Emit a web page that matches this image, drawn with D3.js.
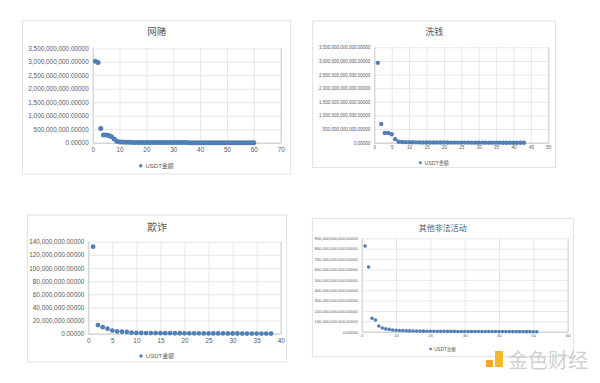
<!DOCTYPE html>
<html>
<head>
<meta charset="utf-8">
<script src="https://cdn.jsdelivr.net/npm/d3@7"></script>
<style>
  body { margin: 0; background: #fff; }
  svg { display: block; }
  .tick text { fill: #595959; font-family: "Liberation Sans", Arial, sans-serif; }
  .grid line { stroke: #d9d9d9; stroke-width: 0.6; }
</style>
</head>
<body>
<svg id="mainsvg" width="600" height="383"></svg>
<script>
// chart values
let titles = ["网赌", "洗钱", "欺诈", "其他非法活动"];
let legendLabel = "USDT金额";

let wangduValues = [3.02e9, 2.97e9, 5.3e8, 2.9e8, 2.88e8, 2.7e8, 2.25e8, 1.4e8, 5.5e7, 3.0e7,
    2.2e7, 1.8e7, 1.5e7, 1.3e7, 1.1e7, 1.0e7, 9.0e6, 8.5e6, 8.0e6, 7.5e6,
    7.0e6, 6.5e6, 6.0e6, 5.6e6, 5.2e6, 4.9e6, 4.6e6, 4.3e6, 4.0e6, 3.8e6,
    3.6e6, 3.4e6, 3.2e6, 3.0e6, 2.9e6, 2.7e6, 2.6e6, 2.5e6, 2.4e6, 2.3e6,
    2.2e6, 2.1e6, 2.0e6, 1.9e6, 1.8e6, 1.7e6, 1.6e6, 1.5e6, 1.4e6, 1.3e6,
    1.2e6, 1.1e6, 1.0e6, 9e5, 8e5, 7e5, 6e5, 5e5, 4e5, 3e5];
let xiqianValues = [2.93e12, 6.9e11, 3.6e11, 3.55e11, 3.1e11, 1.3e11, 3.5e10, 2.6e10, 2.1e10, 1.8e10,
    1.5e10, 1.3e10, 1.1e10, 9.5e9, 8.5e9, 7.5e9, 6.8e9, 6.2e9, 5.6e9, 5.1e9,
    4.7e9, 4.3e9, 4.0e9, 3.7e9, 3.4e9, 3.1e9, 2.9e9, 2.7e9, 2.5e9, 2.3e9,
    2.1e9, 1.9e9, 1.7e9, 1.5e9, 1.3e9, 1.1e9, 9e8, 7.5e8, 6e8, 4.5e8,
    3.5e8, 2.5e8, 1.5e8];
let qizhaValues = [1.324e8, 1.32e7, 1.0e7, 7.6e6, 4.8e6, 3.4e6, 3.0e6, 2.7e6, 1.5e6, 1.25e6,
    1.1e6, 1.0e6, 9.5e5, 9e5, 8.5e5, 8e5, 7.5e5, 7e5, 6.6e5, 6.2e5,
    5.8e5, 5.4e5, 5e5, 4.7e5, 4.4e5, 4.1e5, 3.8e5, 3.5e5, 3.2e5, 3e5,
    2.8e5, 2.6e5, 2.4e5, 2.2e5, 2e5, 1.8e5, 1.6e5, 1.4e5];
let qitaValues = [8.25e11, 6.23e11, 1.29e11, 1.13e11, 5.5e10, 3.6e10, 2.7e10, 2.2e10, 1.7e10, 1.4e10,
    1.2e10, 1.0e10, 8.8e9, 7.8e9, 7e9, 6.3e9, 5.7e9, 5.2e9, 4.8e9, 4.4e9,
    4.1e9, 3.8e9, 3.5e9, 3.3e9, 3.1e9, 2.9e9, 2.7e9, 2.55e9, 2.4e9, 2.25e9,
    2.1e9, 2e9, 1.9e9, 1.8e9, 1.7e9, 1.6e9, 1.5e9, 1.4e9, 1.3e9, 1.2e9,
    1.1e9, 1.0e9, 9e8, 8e8, 7e8, 6e8, 5e8, 4e8, 3e8, 2e8, 1e8];

let yMaxes = [3.5e9, 3.5e12, 1.4e8, 9e11];
let yTickSteps = [5e8, 5e11, 2e7, 1e11];
let xMaxes = [70, 50, 40, 60];
let xTickSteps = [10, 5, 5, 10];

// layout of the four boxes (pixels)
let layout = [
    {box: [22.7, 20.7, 290.7, 174], plot: [92.7, 280.7, 48.3, 142.7], titleY: 35, titleSize: 9.5, tick: 6.4, legY: 165.7, legSize: 6, r: 2.5},
    {box: [312.7, 21, 555.7, 167.3], plot: [374.3, 548.3, 47.3, 142.7], titleY: 35, titleSize: 9, tick: 4.5, legY: 162.7, legSize: 5.2, r: 2.2},
    {box: [27.3, 215, 286.7, 362], plot: [88.3, 280.7, 241.7, 333.7], titleY: 230.5, titleSize: 10, tick: 6.4, legY: 356, legSize: 6, r: 2.4},
    {box: [312.3, 218.3, 573.3, 356.7], plot: [361.7, 567.7, 238.3, 331.7], titleY: 230.8, titleSize: 8, tick: 4.1, legY: 349, legSize: 4.6, r: 1.8}
];
let seriesList = [wangduValues, xiqianValues, qizhaValues, qitaValues];
let dotColor = "#4f7fb6";
let fmt = d3.format(",.5f");

let svg = d3.select("#mainsvg");

function drawPanel(i) {
    let L = layout[i];
    let values = seriesList[i];
    let [bx0, by0, bx1, by1] = L.box;
    let [px0, px1, py0, py1] = L.plot;
    let g = svg.append("g");

    g.append("rect")
        .attr("x", bx0).attr("y", by0)
        .attr("width", bx1 - bx0).attr("height", by1 - by0)
        .attr("fill", "#fff").attr("stroke", "#d9d9d9").attr("stroke-width", 0.8);

    let x = d3.scaleLinear().domain([0, xMaxes[i]]).range([px0, px1]);
    let y = d3.scaleLinear().domain([0, yMaxes[i]]).range([py1, py0]);

    let yTicks = d3.range(0, yMaxes[i] + yTickSteps[i] / 2, yTickSteps[i]);
    let xTicks = d3.range(0, xMaxes[i] + xTickSteps[i] / 2, xTickSteps[i]);

    let ya = g.append("g").attr("class", "grid")
        .attr("transform", `translate(${px0},0)`)
        .call(d3.axisLeft(y).tickValues(yTicks).tickFormat(fmt)
            .tickSize(-(px1 - px0)).tickPadding(4));
    ya.select(".domain").remove();
    ya.selectAll("text").attr("font-size", L.tick);

    let xa = g.append("g").attr("class", "grid")
        .attr("transform", `translate(0,${py1})`)
        .call(d3.axisBottom(x).tickValues(xTicks).tickFormat(d3.format("d"))
            .tickSize(-(py1 - py0)).tickPadding(L.tick * 0.7));
    xa.select(".domain").attr("stroke", "#bfbfbf").attr("stroke-width", 0.8);
    xa.selectAll("text").attr("font-size", L.tick);

    g.append("g").selectAll("circle")
        .data(values)
        .enter()
        .append("circle")
        .attr("cx", (d, k) => x(k + 1))
        .attr("cy", d => y(d))
        .attr("r", L.r)
        .attr("fill", dotColor);

    let cx = (bx0 + bx1) / 2;
    g.append("text")
        .attr("x", cx).attr("y", L.titleY)
        .attr("text-anchor", "middle")
        .attr("font-family", "'Noto Sans CJK SC', sans-serif")
        .attr("font-size", L.titleSize)
        .attr("fill", "#595959")
        .text(titles[i]);

    // legend
    let leg = g.append("g").attr("transform", `translate(${cx},${L.legY})`);
    let lt = leg.append("text")
        .attr("x", L.legSize * 0.2).attr("y", 0)
        .attr("dy", "0.35em")
        .attr("font-family", "'Liberation Sans', 'Noto Sans CJK SC', sans-serif")
        .attr("font-size", L.legSize)
        .attr("fill", "#595959")
        .text(legendLabel);
    let w = lt.node().getComputedTextLength();
    lt.attr("x", -w / 2 + L.legSize * 0.5);
    leg.append("circle")
        .attr("cx", -w / 2 - L.legSize * 0.3).attr("cy", 0)
        .attr("r", L.legSize * 0.28)
        .attr("fill", dotColor);
}

for (let i = 0; i < 4; i++) drawPanel(i);

// watermark
let wm = svg.append("g");
wm.append("rect").attr("x", 486).attr("y", 360).attr("width", 7).attr("height", 7).attr("fill", "#f5a623");
wm.append("rect").attr("x", 495).attr("y", 351).attr("width", 8).attr("height", 16).attr("fill", "#f7b733");
wm.append("text")
    .attr("x", 508).attr("y", 368)
    .attr("font-family", "'Noto Sans CJK SC', sans-serif")
    .attr("font-size", 20)
    .attr("fill", "#c9c9c9")
    .attr("opacity", 0.85)
    .text("金色财经");
</script>
</body>
</html>
